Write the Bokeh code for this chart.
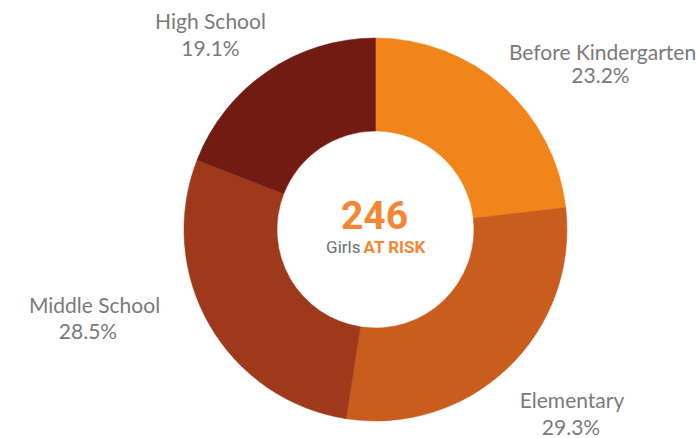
import math
from bokeh.plotting import figure
from bokeh.models import Range1d, ColumnDataSource
from bokeh.core.properties import value
from bokeh.embed import file_html
from bokeh.resources import INLINE

# ---- data ----
categories = ["Before Kindergarten", "Elementary", "Middle School", "High School"]
percents = [23.2, 29.3, 28.5, 19.1]
colors = ["#F2851A", "#C95D1E", "#9E3A1B", "#721B13"]
total_label = "246"

# ---- layout (screen-pixel coordinates, y measured from the top) ----
W, H = 696, 438
cx, cy = 375, 229
r_out, r_in = 191.5, 98.5
label_xy = {
    "Before Kindergarten": [(602, 50.5), (600, 73.5)],
    "Elementary": [(571.5, 398.5), (570.5, 425.5)],
    "Middle School": [(94, 304), (87.5, 330)],
    "High School": [(210, 20), (210, 47)],
}

def Y(sy):
    return H - sy

p = figure(width=W, height=H, output_backend="svg", toolbar_location=None,
           x_range=Range1d(0, W), y_range=Range1d(0, H),
           min_border=0)
p.axis.visible = False
p.grid.visible = False
p.outline_line_color = None
p.background_fill_color = "white"
p.border_fill_color = "white"

tot = sum(percents)
starts, ends = [], []
c = 0.0
for v in percents:
    starts.append(math.pi / 2 - 2 * math.pi * c / tot)
    c += v
    ends.append(math.pi / 2 - 2 * math.pi * c / tot)

src = ColumnDataSource(dict(x=[cx] * 4, y=[Y(cy)] * 4, start=starts, end=ends, color=colors))
p.annular_wedge(x="x", y="y", inner_radius=r_in, outer_radius=r_out,
                start_angle="start", end_angle="end", direction="clock",
                fill_color="color", line_color="color", line_width=0.5, source=src)

lx, ly, lt = [], [], []
for cat, pct in zip(categories, percents):
    (x1, y1), (x2, y2) = label_xy[cat]
    lx += [x1, x2]
    ly += [Y(y1), Y(y2)]
    lt += [cat, f"{pct:.1f}%"]
p.text(x=lx, y=ly, text=lt, text_font=value("Lato"), text_font_size="21px",
       text_color="#7a7a7a", text_align="center", text_baseline="middle")

p.text(x=[cx - 1], y=[Y(214)], text=[total_label], text_font=value("Roboto"),
       text_font_style="bold", text_font_size="39px", text_color="#F58634",
       text_align="center", text_baseline="middle")
p.text(x=[cx - 15], y=[Y(246)], text=["Girls"], text_font=value("Roboto"),
       text_font_size="17px", text_color="#6f6f6f",
       text_align="right", text_baseline="middle")
p.text(x=[cx - 12], y=[Y(246)], text=["AT RISK"], text_font=value("Roboto"),
       text_font_style="bold", text_font_size="17px", text_color="#F58634",
       text_align="left", text_baseline="middle")

open("out.html", "w").write(file_html(p, INLINE))
